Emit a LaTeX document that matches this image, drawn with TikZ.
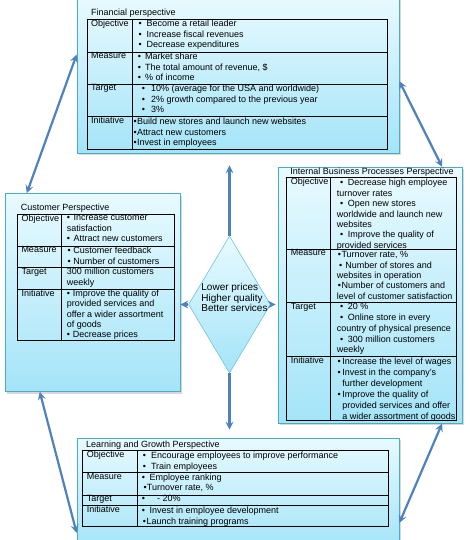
\documentclass[tikz,border=0pt]{standalone}
\usepackage{fontspec}
\setmainfont{Liberation Sans}
\usetikzlibrary{shapes.geometric,shadows,arrows.meta,calc}

\definecolor{boxtop}{RGB}{232,250,255}
\definecolor{boxbot}{RGB}{164,228,248}
\definecolor{boxline}{RGB}{75,172,198}
\definecolor{arrowblue}{RGB}{79,129,189}
\definecolor{dialine}{RGB}{110,195,218}

\newcommand{\bpt}[1][2.5]{\textbullet\hspace{#1pt}}

\tikzset{
    persp/.style={draw=boxline, line width=0.75pt, top color=boxtop, bottom color=boxbot,
        drop shadow={shadow xshift=1.5pt, shadow yshift=-2pt, fill=black!30}},
    tbl/.style={draw=black, line width=0.8pt},
    cell/.style={anchor=north west, inner sep=0pt, align=left},
    arr/.style={draw=arrowblue, line width=2.2pt},
}

\begin{document}
\begin{tikzpicture}[x=1pt, y=-1pt, font=\fontsize{9}{10.4}\selectfont,
    >={Stealth[length=8pt,width=8pt,inset=3pt]}]
    \useasboundingbox (0,0) rectangle (470,540);

    % Perspective boxes
    \node [persp, minimum width=322pt, minimum height=156pt] (fin) at (238,75) {};
    \node [persp, minimum width=175pt, minimum height=198pt] (cus) at (92.5,292.5) {};
    \node [persp, minimum width=184pt, minimum height=256pt] (ibp) at (370,295.2) {};
    \node [persp, minimum width=322pt, minimum height=110pt] (lrn) at (238,493) {};

    % Centre diamond
    \node [diamond, draw=dialine, line width=0.6pt, top color=boxtop, bottom color=boxbot,
        minimum width=82pt, minimum height=137pt, inner sep=0pt] (dia) at (229.5,304.5) {};
    \node [align=left, inner sep=0pt, font=\fontsize{10}{10.6}\selectfont] (diaT) at (234.5,297.5)
        {Lower prices\\Higher quality\\Better services};

    % Financial perspective
    \node [cell] (finT) at (91,9.2) {Financial perspective};
    \draw [tbl] (87,19) rectangle (387,149);
    \foreach \y in {52,84,116} \draw [tbl] (87,\y) -- (387,\y);
    \draw [tbl] (132,19) -- (132,149);
    \foreach \y/\lab/\nm in {19/Objective/Obj,52/Measure/Mea,84/Target/Tar,116/Initiative/Ini}
        \node [cell] (fin\nm) at (91,\y+0.3) {\lab};
    \node [cell] (finObjC) at (138.3,20.2)
        {\bpt[5]Become a retail leader\\\bpt[5]Increase fiscal revenues\\\bpt[5]Decrease expenditures};
    \node [cell] (finMeaC) at (137.7,52.9)
        {\bpt[4]Market share\\\bpt[4]The total amount of revenue, \$\\\bpt[4]\% of income};
    \node [cell] (finTarC) at (141.7,85.2)
        {\bpt[6]10\% (average for the USA and worldwide)\\\bpt[6]2\% growth compared to the previous year\\\bpt[6]3\%};
    \node [cell] (finIniC) at (133.3,117.9)
        {\bpt[0.5]Build new stores and launch new websites\\\bpt[0.5]Attract new customers\\\bpt[0.5]Invest in employees};

    % Customer perspective
    \node [cell] (cusT) at (20.7,203.9) {Customer Perspective};
    \draw [tbl] (17.3,214.3) rectangle (174,340.7);
    \foreach \y in {246,267.7,289.3} \draw [tbl] (17.3,\y) -- (174,\y);
    \draw [tbl] (61.7,214.3) -- (61.7,340.7);
    \foreach \y/\lab/\nm in {214.3/Objective/Obj,246/Measure/Mea,267.7/Target/Tar,289.3/Initiative/Ini}
        \node [cell] (cus\nm) at (21.3,\y+0.3) {\lab};
    \node [cell] (cusObjC) at (66.7,214.5)
        {\bpt[3.5]Increase customer\\satisfaction\\\bpt[3.5]Attract new customers};
    \node [cell] (cusMeaC) at (67.3,247.2)
        {\bpt[2.8]Customer feedback\\\bpt[2.8]Number of customers};
    \node [cell] (cusTarC) at (66.7,267.9) {300 million customers\\weekly};
    \node [cell] (cusIniC) at (66.7,289.5)
        {\bpt[2.8]Improve the quality of\\provided services and\\offer a wider assortment\\of goods\\\bpt[2.8]Decrease prices};

    % Internal business processes perspective
    \node [cell, anchor=north] (ibpT) at (372,167.4) {Internal Business Processes Perspective};
    \draw [tbl] (286.7,177) rectangle (456.7,420);
    \foreach \y in {249,302.7,356.7} \draw [tbl] (286.7,\y) -- (456.7,\y);
    \draw [tbl] (330,177) -- (330,420);
    \foreach \y/\lab/\nm in {177/Objective/Obj,249/Measure/Mea,302.7/Target/Tar,356.7/Initiative/Ini}
        \node [cell] (ibp\nm) at (290.7,\y+0.3) {\lab};
    \node [cell] (ibpObjC) at (336.7,179.2)
        {\hspace{3.3pt}\bpt[4.5]Decrease high employee\\turnover rates\\
         \hspace{3.3pt}\bpt[4.5]Open new stores\\worldwide and launch new\\websites\\
         \hspace{3.3pt}\bpt[4.5]Improve the quality of\\provided services};
    \node [cell] (ibpMeaC) at (336.7,251.2)
        {\hspace{1pt}\bpt[0.5]Turnover rate, \%\\\hspace{2.3pt}\bpt[3]Number of stores and\\websites in operation\\
         \hspace{1pt}\bpt[0.5]Number of customers and\\level of customer satisfaction};
    \node [cell, font=\fontsize{9}{10.9}\selectfont] (ibpTarC) at (336.7,302.9)
        {\hspace{3.3pt}\bpt[4.5]20 \%\\\hspace{3.3pt}\bpt[4.5]Online store in every\\country of physical presence\\
         \hspace{3.3pt}\bpt[4.5]300 million customers\\weekly};
    \node [cell, font=\fontsize{9}{10.9}\selectfont] (ibpIniC) at (337.5,357.9)
        {\bpt[1.5]Increase the level of wages\\\bpt[1.5]Invest in the company’s\\\hspace{4.6pt}further development\\
         \bpt[1.5]Improve the quality of\\\hspace{4.6pt}provided services and offer\\\hspace{4.6pt}a wider assortment of goods};

    % Learning and growth perspective
    \node [cell] (lrnT) at (86,441.2) {Learning and Growth Perspective};
    \draw [tbl] (82.7,450) rectangle (388,526.7);
    \foreach \y in {472.7,495,505} \draw [tbl] (82.7,\y) -- (388,\y);
    \draw [tbl] (137.3,450) -- (137.3,526.7);
    \foreach \y/\lab/\nm in {450/Objective/Obj,472.7/Measure/Mea,495/Target/Tar,505/Initiative/Ini}
        \node [cell] (lrn\nm) at (86.7,\y+0.3) {\lab};
    \node [cell] (lrnObjC) at (142.7,452.2)
        {\bpt[5]Encourage employees to improve performance\\\bpt[5]Train employees};
    \node [cell] (lrnMeaC) at (141.7,473.5)
        {\bpt[4.5]Employee ranking\\\hspace{1.6pt}\bpt[0.2]Turnover rate, \%};
    \node [cell] (lrnTarC) at (141.7,495.2) {\bpt[12]- 20\%};
    \node [cell, font=\fontsize{9}{11}\selectfont] (lrnIniC) at (141.7,506.9)
        {\bpt[4.5]Invest in employee development\\\hspace{1pt}\bpt[0.5]Launch training programs};

    % Diamond to boxes
    \draw [arr, ->, shorten >=12pt] (dia.north) -- (dia.north |- fin.south);
    \draw [arr, ->, shorten >=8pt] (dia.south) -- (dia.south |- lrn.north);
    \draw [arr, ->] (dia.west) -- (dia.west -| cus.east);
    \draw [arr, ->, shorten >=2pt] (dia.east) -- (dia.east -| ibp.west);
    % Corner links
    \draw [arr, <->] ($(fin.north west)!0.37!(fin.south west)$) -- ($(cus.north west)!0.126!(cus.north east)$);
    \draw [arr, <->] ($(fin.north east)!0.54!(fin.south east)$) -- ($(ibp.north west)!0.89!(ibp.north east)$);
    \draw [arr, <->] ($(ibp.south west)!0.89!(ibp.south east)$) -- ($(lrn.north east)!0.77!(lrn.south east)$);
    \draw [arr, <->] ($(cus.south west)!0.2!(cus.south east)$) -- ($(lrn.north west)!0.86!(lrn.south west)$);

\end{tikzpicture}
\end{document}
